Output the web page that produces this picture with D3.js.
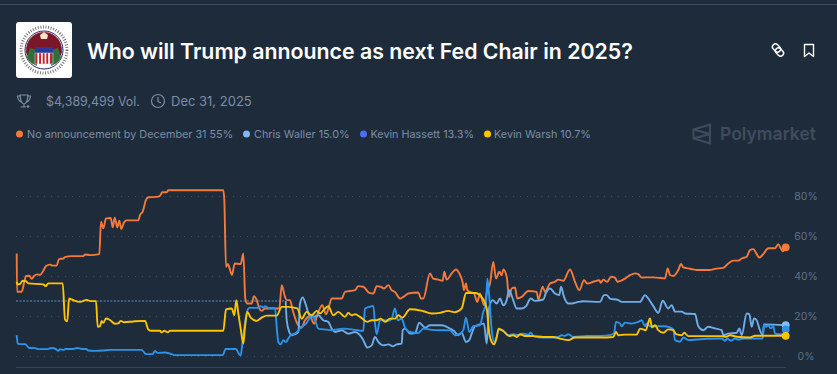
<!DOCTYPE html>
<html>
<head>
<meta charset="utf-8">
<script src="https://d3js.org/d3.v7.min.js"></script>
<style>
  html, body { margin: 0; padding: 0; background: #1e2b3b; overflow: hidden; }
  svg { display: block; font-family: Inter, "Noto Sans", sans-serif; }
</style>
</head>
<body>
<div id="chart"></div>
<script>
// days since the first trade, and probability in percent
var noAnnounceDays = [0.7,1,5.7,8,10,13.3,15.7,18.3,21.3,24,27.3,30,34,36.7,40.7,43,47.3,49,55.7,67.3,69,74,83.3,85,87.3,90,94.7,96.7,98.7,101.3,103.3,105.3,108,110.7,122.3,124,126.7,130,132.3,140.7,144,146.3,150.7,152.3,207.3,208.3,210,212,213.3,216,218.7,224.7,227.3,229.3,231.3,235.7,238,240.7,243.3,245.7,249,259,263.3,265.7,269,270.7,274,276.7,281.3,285.7,289,294,298,302.3,306.3,310,313.3,315.7,325.7,329,339,342.3,347.3,353.3,357.3,360.7,364.7,368,372.3,375.7,379,384,387.3,392.3,402.3,405,407.3,414,417.3,422.3,426.7,428.3,430.7,435.7,440,443.3,446.7,448,450,451.3,454,458,461.3,464,468,471.3,474,477.3,480,483.3,485.7,487.3,490.7,493,495.7,499,501.3,505.7,512.3,520.7,522.3,526.7,529,534,539,542.3,547.3,554,559,563.3,568,571.3,577.3,583.3,584.7,587.3,591.3,595,599,601.3,609,614,619,622.3,625.7,629,637.3,649,651.7,654,657.3,662.3,665,667.3,672.3,677.3,680.7,694,699,707.3,712.3,717.3,722.3,725.7,730.7,734,737.3,740.7,743.3,747.3,752.3,759,762.3,764.7,766.7,769.7];
var noAnnounceValues = [51.3,32.1,32.1,36.3,40,40.1,38.6,40.1,40.8,40.5,42.6,45,45.7,45.2,45.3,48.5,48.8,49.5,50,50,50.8,50.5,51,67.3,63.9,68.9,69.1,64.4,69.3,64.4,67.8,63.6,66.9,67.9,67.9,70.6,72.3,78.2,79.5,79.7,80.3,82,82,83,83,78.2,44.6,46,44.3,40.5,46.3,46,51.3,28.7,26.2,26.2,29.9,27.9,23.7,22.5,23.7,23.7,23.7,35.4,29.5,27.9,27.9,22.8,16.1,14.1,17.8,19.8,16.1,22,25.3,20.8,25.3,28.7,28.7,32,32.9,34.9,34.6,31.5,31.2,34.9,34.6,33.7,35.4,32.9,32,28.7,29.5,31.2,31.7,28.7,28.7,41.3,38.7,38.2,37.6,42.1,38.2,41.3,43.3,41.3,36.6,32.9,36.2,32.9,32,31.2,27,31.2,25.3,32.9,36.2,47.1,38.7,42.1,40.4,43.3,39.6,29.5,33.7,34.2,28.7,29.5,32.5,32,28.2,34.6,32,36.2,37.1,38.2,37.6,43.3,37.1,32.9,37.9,36.2,37.1,37.9,36.6,38.2,37.1,39.6,39.2,37.1,38.7,40.4,41.3,40.9,39.2,39.3,39.3,38.8,43.8,40.5,40,43,46,44.3,43.8,43.3,43,43,43.6,44.1,46.3,47.7,47.7,48.8,49.7,53,53.5,51,49.3,51,53.9,53.9,56,53.9,52.4,54.4];

var wallerDays = [269.7,270.7,273.3,275.7,279,282.3,284,286.7,290,293.3,297.3,302.3,307.3,312.3,315.7,319,325.7,332.3,339,344,347.3,351.3,355.7,359,362.3,367.3,372.3,376.7,380.7,385.7,386.7,389,394,399,403.3,409,414,425.7,434,438,442.3,445.7,450,453.3,455.7,459,468,470.7,473.3,476.7,480.7,484,487.3,490.7,493,496.7,500.7,505.7,510,514.7,519,527.3,529.7,534,539,543.3,545,548,552.3,555.7,562.3,567.3,584,588,590.7,594,602.3,605.7,624,629,632.3,637.3,642.3,646.7,652.3,655.7,659,665.7,669,679,682.3,687.3,692.3,699,705.7,707.3,712.3,720.7,723.3,725.7,730.7,733.3,735.7,738,740.7,743.3,746.7,748,769.7];
var wallerValues = [27.4,17.8,11.9,10.3,10.8,11.9,26.2,29.2,25.3,20.3,19.5,20.3,17.8,17,13.6,11.9,12.8,11.1,11.9,10.3,7.8,4.1,5.2,9.4,6.9,5.2,5.7,4.7,5.7,6.1,12.8,13.6,11.1,11.4,16.5,14.1,15.3,15.3,13.6,12.4,10.3,11.4,6.9,7.8,11.1,14.8,16.1,6.1,24.5,27.9,26.2,28.7,25.3,27.9,32.9,28.7,23.7,23.7,24.8,28.7,27.5,28.2,31.2,33.7,31.2,30.4,34.6,29.5,26.2,26.2,27,27.3,27,30.4,30.4,28.7,27.9,27,27,30.4,28.7,24.9,21.5,27.6,23.7,25.4,22.1,22.1,21.2,20.9,14.8,12.8,14.5,13.7,12.8,10.3,11.1,11.5,13.7,10.3,21.2,20.9,14.5,18.7,17.8,13.7,10.3,15.7,15.3];

var hassettDays = [0.7,1.7,4.7,9,13.3,19,22.3,30.7,35.7,40,42.3,44,47.3,50,57.3,61.3,65.7,70,72.3,79,87.3,94,125.7,130,136.7,139,141.3,149,155.7,158,206.7,209.7,220,222.7,224.7,226.7,231,233.3,242.3,244.7,247.3,249,252.3,259,260.7,262.3,264.7,267.3,270,272.3,274.7,279,285.7,290,292.3,295.7,299,302.3,310.7,315.7,327.3,337.7,347.3,349,353.3,357.3,359,360.7,364,367.3,372.3,375.7,379,381.7,385.7,389,394,402.3,407.3,414,424,434,439,444,447.3,450,453.3,457.3,464,467.3,470,471.3,473.3,475.7,478.3,480.7,482.7,487.3,492.3,497.3,502.3,507.3,512.3,514.7,517.3,527.3,537.3,542.3,545.7,549,552.3,557.3,570.7,584,594,598,600,604,605.7,609,615.7,622.3,625.7,629,630.7,634,649,652.3,657.3,659,664,667.3,672.3,680.7,690.7,705.7,709,711.3,714.7,719,722.3,727.3,746.7,748,750,752.3,754.7,757.3,759,764,767.3,769.7];
var hassettValues = [10.3,6.1,5.8,5.8,3.9,3.8,3.3,3.3,3.9,3.3,2.4,3.3,2.9,3.4,3.4,3.9,3.4,3.4,2.6,2.4,2.6,2.9,2.9,0.8,0.8,2.4,1.4,1.6,0.8,0.3,0.3,3.4,3.4,1.1,0.1,7.8,22,24,24,24.9,24.2,24.9,24,23.9,14.5,6.9,5.7,7.8,6.9,8.6,10.3,11.1,14.5,16.1,17.8,20.3,17.8,13.6,13.1,12.8,13.6,13.1,12.4,23.7,24.5,25,16.1,10.8,17.8,17.8,17.5,18.6,23.7,17.8,18.6,14.1,11.9,11.4,13.6,13.1,12.8,12.8,10.3,11.1,12.8,19.1,11.9,14.8,15.3,22,26.2,38.7,29.5,12.8,6.9,9.4,13.1,12.4,10.3,10.8,10.3,11.1,10.6,11.6,9.9,9.1,9.1,9.4,10.3,9.9,10.8,9.4,9.9,9.9,10.3,11.1,17,16.1,14.8,16.6,16.1,17,17.8,14.8,16.2,14.8,14.8,14.5,13.2,7.8,7,9.1,7.8,8.1,8.5,8.6,7.5,8.6,7.5,8.6,8.1,8.6,8.6,15.8,14.5,15.3,13.7,14.8,11.1,10.8,10.8,13.2];

var warshDays = [0.7,1.3,4,6.7,10,12.3,27.3,29.7,32.3,46.7,49,51.3,53,55.7,64,70.7,74.7,80,81.7,84,85.7,87.3,90,94,99,102.3,104.7,108,117.3,129,132.3,135.7,144,145.7,148.3,151.7,154,207.3,210,215.7,218.3,220.3,222.3,224.7,227.3,229,231.3,234.7,240.7,245.7,250.7,260.7,265.7,272.3,281.3,285.7,290.7,295.7,300.7,304,309,312.3,317.3,322.3,329,332.3,335.7,339,344,351.3,355.7,360.7,364.7,369,374,379,382.3,386.3,394,399,407.3,415.7,424,432.3,439,445.7,450,459,466.7,470.7,473.3,475.7,478.3,480.7,482.7,487.3,493.3,497.3,500.7,504,509,517.3,527.3,537.3,544,552.3,559,570.7,584,597.3,600,602.3,609,620.7,624,630,631.3,634,636,639,642.3,647.3,652.3,657.3,660,665.7,668.3,672.3,705.7,710,714,720.7,734,739,769.7];
var warshValues = [37.1,35.8,36,37.6,37.4,36.3,35.8,34.9,36.3,36.3,18.2,17.3,28.7,28.2,27,28,27.4,27.4,14.5,14.8,17.5,16.5,18.7,17.9,16,16.2,17.5,16.8,17.2,17.5,13.2,12.5,12.5,11.7,12.5,11.7,12.5,12.5,23.2,23.7,20.4,27.9,21.2,13.6,6.1,14.4,22,19.1,17.5,19.1,20.1,20.1,24.5,24.5,23.7,18.6,22,20.3,22.5,21.2,23.7,24.8,20.3,22,19.5,21.5,20.3,20.8,19.5,17,17.8,17.8,18.6,17,18.6,18.6,20.3,19.1,23.3,23.2,22.3,21.2,21.5,22.5,21.8,23.7,31.5,31.5,28.7,23.7,11.1,6.9,5.7,9.4,13.6,12.4,9.8,10.3,9.4,10.8,9.9,9.8,9.4,9.4,8.6,7.8,9.1,9.1,9.1,9.4,11.9,10.3,10.6,10.6,13.6,12.8,14.8,18.7,14.2,15.3,12.8,11.5,13.2,12.8,10.8,10.3,11.5,9.8,9.8,9.5,10.3,9.5,9.1,10,10];

var outcomeNames = ["No announcement by December 31", "Chris Waller", "Kevin Hassett", "Kevin Warsh"];
var outcomeLabels = ["55%", "15.0%", "13.3%", "10.7%"];
var legendColors = ["#f5793a", "#7db7f7", "#4a6ff0", "#ffc400"];
var lineColors = ["#f5793a", "#6fade9", "#2c93ea", "#ffc400"];
var dotColors = ["#f5793a", "#86bdf7", "#2c93ea", "#ffc400"];
var yTicks = [0, 20, 40, 60, 80];
var lastDay = 769.7;
var dashedValue = 27.4;

var width = 837, height = 374;
var svg = d3.select("#chart").append("svg").attr("width", width).attr("height", height);

svg.append("rect").attr("width", width).attr("height", height).attr("fill", "#1e2b3b");
svg.append("rect").attr("y", 4).attr("width", width).attr("height", 1).attr("fill", "#3b4f66");

var x = d3.scaleLinear().domain([0, lastDay]).range([16, 785.7]);
var y = d3.scaleLinear().domain([0, 80]).range([355.7, 196.3]);

///////////////////
///// header //////
///////////////////
// fed seal, roughly
var seal = svg.append("g").attr("transform", "translate(44,50)");
seal.append("rect").attr("x", -28).attr("y", -28).attr("width", 56).attr("height", 56).attr("rx", 3).attr("fill", "#fff");
seal.append("circle").attr("r", 23).attr("fill", "none").attr("stroke", "#777").attr("stroke-width", 3).attr("stroke-dasharray", "1 1.6");
seal.append("circle").attr("r", 19).attr("fill", "#fff").attr("stroke", "#23265e").attr("stroke-width", 1);
seal.append("path").attr("d", d3.arc()({innerRadius: 0, outerRadius: 18, startAngle: -1.9, endAngle: 1.9})).attr("fill", "#7d1626");
seal.append("path").attr("d", "M-4,-15L0,-18L4,-15L3,-11L-3,-11Z").attr("fill", "#f1e6c8");
seal.append("path").attr("d", "M-17,7C-15,13 -9,15 -7,16L-7,0L-14,-2Z M17,7C15,13 9,15 7,16L7,0L14,-2Z").attr("fill", "#2f6f3a");
seal.append("rect").attr("x", -9).attr("y", -3).attr("width", 18).attr("height", 6).attr("fill", "#2b3a9a");
seal.selectAll(".stripe").data(d3.range(5)).enter().append("rect")
  .attr("x", function(d) { return -8.5 + d * 3.6; }).attr("y", 3).attr("width", 1.9).attr("height", 11).attr("fill", "#c8202e");
seal.append("rect").attr("x", -9).attr("y", 3).attr("width", 18).attr("height", 11).attr("fill", "none").attr("stroke", "#ddd").attr("stroke-width", 0.5);

svg.append("text").attr("x", 87).attr("y", 58.5).attr("fill", "#fff")
  .attr("font-size", 21.3).attr("font-weight", 600).text("Who will Trump announce as next Fed Chair in 2025?");

// link and bookmark icons
var icons = svg.append("g").attr("fill", "none").attr("stroke", "#fff").attr("stroke-width", 1.4);
icons.append("rect").attr("x", 773.5).attr("y", 43.5).attr("width", 6).attr("height", 9).attr("rx", 3).attr("transform", "rotate(-45 776.5 48)");
icons.append("rect").attr("x", 776.5).attr("y", 47.5).attr("width", 6).attr("height", 9).attr("rx", 3).attr("transform", "rotate(-45 779.5 52)");
icons.append("path").attr("d", "M804.5,44.5H813.5V56.5L809,53L804.5,56.5Z").attr("stroke-linejoin", "round");

// trophy and clock
var meta = svg.append("g").attr("fill", "none").attr("stroke", "#7c8ea6").attr("stroke-width", 1.2);
meta.append("path").attr("d", "M20,95H28L27,101C26,103 25,104 24,104C23,104 22,103 21,101Z M20,96H17.5C18,100 19,101 21,102 M28,96H30.5C30,100 29,101 27,102 M24,104V107 M20.5,107H26");
meta.append("path").attr("d", "M28,105V108 M26.5,106.5H29.5");
meta.append("circle").attr("cx", 158).attr("cy", 101).attr("r", 6.5);
meta.append("path").attr("d", "M158,97V101.5L161,103");

svg.append("text").attr("x", 46).attr("y", 105.5).attr("fill", "#7c8ea6").attr("font-size", 12.4).text("$4,389,499 Vol.");
svg.append("text").attr("x", 171).attr("y", 105.5).attr("fill", "#7c8ea6").attr("font-size", 13).text("Dec 31, 2025");

// legend
var legendDots = [19.5, 246.5, 363.5, 487.5];
var legendTexts = [27, 254, 370.5, 494];
outcomeNames.forEach(function(name, i) {
  svg.append("circle").attr("cx", legendDots[i]).attr("cy", 134).attr("r", 3.5).attr("fill", legendColors[i]);
  svg.append("text").attr("x", legendTexts[i]).attr("y", 138).attr("fill", "#7c8ea6")
    .attr("font-size", 10.8).text(name + " " + outcomeLabels[i]);
});

// polymarket mark
var mark = svg.append("g").attr("fill", "none").attr("stroke", "#3e4c5e").attr("stroke-width", 2);
mark.append("path").attr("d", "M693.5,129.5L710,124.5V143.5L693.5,138.5Z M693.5,129.5L710,134 M693.5,138.5L710,134");
svg.append("text").attr("x", 720).attr("y", 140).attr("fill", "#3e4c5e")
  .attr("font-size", 17.5).attr("font-weight", 600).text("Polymarket");

///////////////////
////// chart //////
///////////////////
svg.append("g").selectAll("line").data(yTicks).enter().append("line")
  .attr("x1", 16).attr("x2", 786)
  .attr("y1", function(d) { return Math.round(y(d)) + 0.5; })
  .attr("y2", function(d) { return Math.round(y(d)) + 0.5; })
  .attr("stroke", "#3d4c5f").attr("stroke-width", 1).attr("stroke-dasharray", "1 6");

svg.append("rect").attr("x", 16).attr("y", 367).attr("width", 770).attr("height", 1).attr("fill", "#344459");

var axis = svg.append("g").attr("transform", "translate(806,0)")
  .call(d3.axisRight(y).tickValues(yTicks).tickSize(0).tickPadding(0).tickFormat(function(d) { return d + "%"; }));
axis.select(".domain").remove();
axis.selectAll("text").attr("fill", "#5f7186").attr("font-size", 10.5)
  .attr("font-family", "Inter, sans-serif").attr("text-anchor", "middle");

// waller has no trades before this, drawn dashed
svg.append("line").attr("x1", x(0)).attr("x2", x(wallerDays[0]))
  .attr("y1", y(dashedValue)).attr("y2", y(dashedValue))
  .attr("stroke", "#4d7196").attr("stroke-width", 1.5).attr("stroke-dasharray", "2 1.5");

var line = d3.line().curve(d3.curveMonotoneX)
  .x(function(d) { return x(d[0]); })
  .y(function(d) { return y(d[1]); });

var seriesDays = [noAnnounceDays, wallerDays, hassettDays, warshDays];
var seriesValues = [noAnnounceValues, wallerValues, hassettValues, warshValues];

seriesDays.forEach(function(days, i) {
  svg.append("path").datum(d3.zip(days, seriesValues[i]))
    .attr("d", line).attr("fill", "none")
    .attr("stroke", lineColors[i]).attr("stroke-width", 1.9).attr("stroke-linejoin", "round");
});

seriesDays.forEach(function(days, i) {
  var n = days.length - 1;
  svg.append("circle").attr("cx", x(days[n])).attr("cy", y(seriesValues[i][n]))
    .attr("r", 3.9).attr("fill", dotColors[i]);
});
</script>
</body>
</html>
